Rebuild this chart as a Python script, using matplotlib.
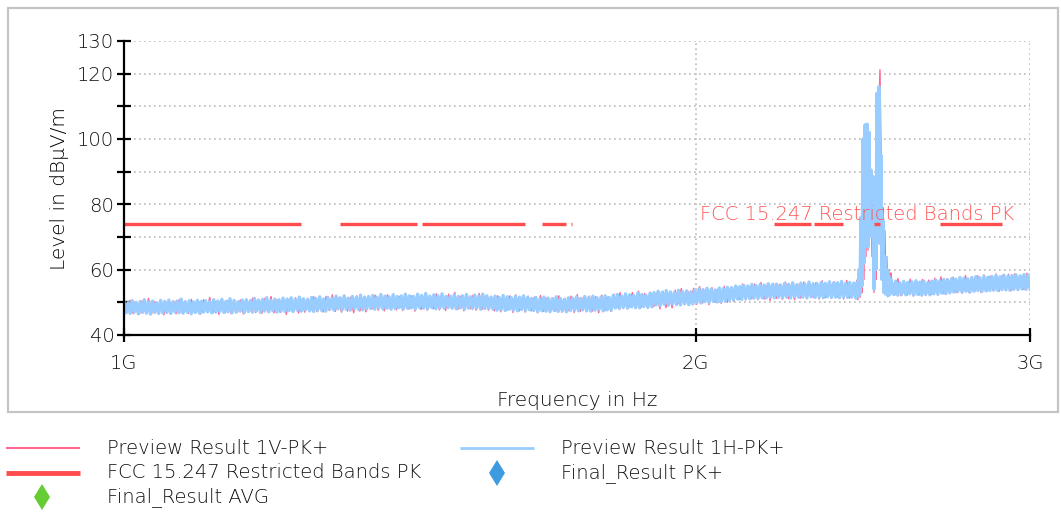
import numpy as np
import matplotlib
matplotlib.use("Agg")
import matplotlib.pyplot as plt
from matplotlib.lines import Line2D
from matplotlib.patches import Rectangle

plt.rcParams['font.family'] = ['DejaVu Sans']
plt.rcParams['font.weight'] = 200
plt.rcParams['axes.labelweight'] = 200

# ---------------- data ----------------
# Preview Result 1H-PK+ (blue), noise section 1.0 - 2.43 GHz
blue_a = [
    50.2,46.8,49.9,46.6,50.5,47.0,50.0,46.5,50.3,46.9,50.8,46.7,50.1,46.4,50.4,46.9,49.9,46.6,50.6,46.8,
    50.3,46.9,50.7,46.6,50.0,47.1,50.4,46.8,51.0,46.7,50.2,47.0,50.5,46.5,50.1,46.9,50.6,46.7,50.3,47.0,
    50.5,47.1,50.2,46.8,50.8,47.0,50.4,47.2,50.9,46.9,50.3,47.1,51.1,46.8,50.6,47.0,50.2,47.3,50.7,46.9,
    50.8,47.2,50.5,47.0,51.2,47.4,50.7,46.9,50.9,47.3,51.4,47.1,50.6,47.4,51.0,47.0,50.8,47.3,51.3,47.2,
    51.0,47.5,51.4,47.2,50.9,47.6,51.6,47.3,51.1,47.7,50.8,47.4,51.5,47.2,51.2,47.6,51.7,47.5,51.0,47.3,
    51.5,47.9,51.2,47.6,51.9,48.0,51.4,47.7,52.0,47.9,51.3,47.6,51.8,48.1,51.5,47.8,52.2,47.7,51.6,48.0,
    51.8,48.1,52.1,47.9,51.6,48.3,52.4,48.0,51.9,48.2,51.7,47.9,52.3,48.1,51.8,48.4,52.0,48.0,52.5,48.2,
    52.0,48.3,51.8,48.0,52.5,48.4,52.1,48.2,52.7,48.1,51.9,48.4,52.3,48.0,52.0,48.3,52.6,48.2,51.8,48.4,
    51.9,48.2,52.3,48.0,51.8,48.3,52.0,47.9,52.4,48.2,51.7,48.1,52.2,48.3,51.9,47.9,52.5,48.1,52.0,48.2,
    51.6,47.9,51.9,47.6,51.5,47.8,52.1,47.5,51.7,47.9,51.4,47.6,51.8,47.4,51.6,47.8,52.0,47.6,51.5,47.7,
    51.2,47.5,51.5,47.2,51.0,47.4,51.6,47.3,51.3,47.1,51.1,47.5,51.7,47.2,51.2,47.4,50.9,47.1,51.4,47.5,
    51.3,47.6,51.7,47.4,51.2,47.7,51.8,47.5,51.5,47.3,51.9,47.6,51.4,47.8,51.6,47.4,52.0,47.7,51.5,47.6,
    52.1,48.3,52.4,48.1,52.0,48.5,52.6,48.2,52.3,48.6,52.1,48.4,52.8,48.3,52.4,48.7,52.2,48.5,52.7,48.6,
    53.0,49.2,53.4,49.0,53.1,49.4,53.6,49.1,53.2,49.5,53.0,49.3,53.7,49.2,53.3,49.6,53.5,49.3,53.2,49.5,
    53.8,50.0,54.1,49.8,53.9,50.2,54.3,50.0,54.0,50.3,53.8,50.1,54.4,50.2,54.2,50.5,54.6,50.6,54.5,50.8,
    55.0,51.0,54.8,50.9,55.2,51.2,55.0,51.1,55.5,51.3,55.1,51.2,55.4,51.4,55.3,51.3,55.7,51.5,55.4,51.4,
    55.6,51.5,55.3,51.4,55.8,51.6,55.5,51.3,56.0,51.7,55.4,51.5,55.9,51.6,55.6,51.4,56.2,51.7,55.7,51.5,
    55.7,51.6,56.1,51.4,55.8,51.7,56.3,51.5,55.9,51.6,56.0,51.4,56.4,51.7,55.8,51.5,56.1,51.6,55.9,51.3,
]
# blue, carrier region 2432 - 2534 MHz (3 MHz steps)
blue_peak = [
    56.0,51.8,60.0,52.5,76.0,55.0,100.0,62.0,104.3,67.0,104.5,67.0,102.0,72.0,90.5,70.0,
    88.5,54.0,80.0,60.0,114.0,75.0,116.0,68.0,95.0,57.0,75.0,53.0,64.0,52.5,60.0,52.0,
    58.0,52.4,57.0,
]
# blue, noise section 2.54 - 3.0 GHz
blue_b = [
    56.2,52.4,56.5,52.2,56.0,52.5,56.4,52.3,56.1,52.6,
    56.3,52.3,56.6,52.4,56.2,52.2,56.5,52.5,56.0,52.3,
    56.5,52.6,56.8,52.5,56.6,52.8,57.0,52.7,56.9,52.9,
    57.3,53.1,57.1,53.3,57.6,53.2,57.4,53.4,57.2,53.1,
    57.6,53.4,57.9,53.6,57.5,53.3,58.0,53.5,57.7,53.6,
    57.9,53.7,58.2,53.6,57.8,53.9,58.3,53.8,58.0,53.7,
    58.2,54.0,58.4,53.9,58.1,54.1,58.5,54.0,58.3,54.2,
]

# Preview Result 1V-PK+ (pink)
red_a = [
    50.1,46.9,50.6,46.5,49.9,46.3,50.4,47.0,51.2,46.6,50.1,46.8,50.7,46.2,49.9,46.7,50.5,46.5,50.8,46.9,
    50.3,46.6,50.9,46.9,50.1,46.4,50.8,47.1,51.5,46.7,50.2,46.3,50.9,46.8,50.6,46.5,50.4,46.9,50.7,46.4,
    50.6,47.2,51.3,46.9,50.5,46.6,51.2,47.1,51.8,46.8,50.7,46.9,51.1,46.3,50.9,47.1,51.4,46.7,50.6,47.0,
    51.2,47.5,51.7,47.1,51.0,47.0,51.8,47.5,52.3,47.2,51.3,47.0,51.6,47.3,51.5,46.8,52.0,47.3,51.1,47.1,
    51.7,48.0,52.2,47.6,51.5,47.4,52.3,48.0,52.6,47.7,51.8,47.5,52.1,47.9,52.0,47.3,52.5,47.8,51.6,47.6,
    52.0,48.0,52.6,47.7,51.8,47.5,52.5,48.1,53.0,47.8,51.9,47.4,52.4,48.0,52.2,47.6,52.7,47.9,51.8,47.6,
    51.5,47.4,52.0,47.1,51.2,47.5,52.0,46.9,52.3,47.3,51.4,47.0,51.9,47.4,51.6,46.8,52.1,47.2,51.3,47.0,
    51.4,47.3,52.0,47.0,51.2,47.4,51.9,46.9,52.4,47.2,51.5,47.1,51.9,47.3,51.7,46.8,52.2,47.4,51.6,47.2,
    52.5,48.4,53.0,48.1,52.3,48.6,53.0,48.1,53.4,48.5,52.7,48.2,53.1,48.7,52.9,48.0,53.4,48.4,52.6,48.3,
    53.7,49.6,54.2,49.3,53.6,49.9,54.3,49.4,54.8,49.8,53.9,49.3,54.5,50.1,54.1,49.7,54.9,50.0,54.0,50.3,
    55.0,50.9,55.6,50.7,54.9,51.1,55.6,50.8,56.1,51.0,55.2,50.6,55.8,51.2,55.5,50.9,56.2,51.1,55.3,50.8,
    55.6,51.3,56.2,51.1,55.4,51.5,56.1,51.0,56.6,51.4,55.7,51.2,56.3,51.6,55.9,51.0,56.7,51.3,55.6,51.1,
]
red_peak = [
    56.8,50.8,58.0,51.5,63.0,53.0,92.0,57.0,103.5,64.0,103.0,66.0,97.0,70.0,87.0,64.0,
    85.0,53.0,74.0,57.0,106.0,73.0,110.0,121.2,98.0,75.0,79.0,63.0,72.0,56.0,64.0,52.0,
    60.0,52.0,59.0,
]
red_b = [
    56.6,52.2,57.3,52.0,56.4,52.2,57.1,51.9,56.7,52.3,
    57.0,52.1,56.8,52.4,57.4,52.2,57.8,52.6,57.2,52.8,
    57.7,53.0,57.4,52.8,58.2,53.1,57.8,53.3,58.1,53.1,
    58.4,53.4,58.0,53.6,58.7,53.4,58.3,53.7,58.6,53.6,
    58.7,53.8,58.2,53.9,58.9,53.7,
]

# FCC 15.247 restricted bands (MHz) and limit level
band_start = [1000, 1300, 1435, 1645.5, 1660, 1718.8, 2200, 2310, 2483.5, 2690]
band_stop = [1240, 1427, 1626.5, 1646.5, 1710, 1722.2, 2300, 2390, 2500, 2900]
limit_pk = 74.0

y_ticks = [40, 50, 60, 70, 80, 90, 100, 110, 120, 130]
y_labels = ['40', '', '60', '', '80', '', '100', '', '120', '130']
x_ticks = [1000, 2000, 3000]
x_labels = ['1G', '2G', '3G']

# sweep frequency grids (MHz)
f_peak = np.arange(2432, 2535, 3)
f_blue = np.concatenate([np.geomspace(1000, 2429, len(blue_a)), f_peak,
                         np.geomspace(2537, 3000, len(blue_b))])
f_red = np.concatenate([np.geomspace(1000, 2429, len(red_a)), f_peak,
                        np.geomspace(2537, 3000, len(red_b))])
lv_blue = np.array(blue_a + blue_peak + blue_b)
lv_red = np.array(red_a + red_peak + red_b)

# ---------------- figure ----------------
W, H = 1061, 513
fig = plt.figure(figsize=(W / 100, H / 100), dpi=100)
ax = fig.add_axes([124 / W, 1 - 335 / H, (1030 - 124) / W, (335 - 41) / H])

C_PINK = '#ff6690'
C_BLUE = '#99ccff'
C_LIM = '#ff4c4c'
GRID = '#bbbbbb'
TXT = '#111111'

ax.plot(f_red, lv_red, color=C_PINK, lw=1.0, zorder=3)
ax.plot(f_blue, lv_blue, color=C_BLUE, lw=2.4, zorder=4)
for a, b in zip(band_start, band_stop):
    ax.plot([a, b], [limit_pk, limit_pk], color=C_LIM, lw=2.4,
            solid_capstyle='butt', zorder=5)

ax.text(2010, 77.0, 'FCC 15.247 Restricted Bands PK', color='#ff5555',
        fontsize=14, va='center', ha='left', zorder=6)

ax.set_xscale('log')
ax.set_xlim(1000, 3000)
ax.set_ylim(40, 130)
ax.set_xticks(x_ticks)
ax.set_xticklabels(x_labels)
ax.xaxis.set_minor_locator(matplotlib.ticker.NullLocator())
ax.set_yticks(y_ticks)
ax.set_yticklabels(y_labels)

for y in y_ticks[1:]:
    ax.axhline(y, color=GRID, lw=1.2, ls=(0, (1, 2)), zorder=1)
for x in x_ticks[1:]:
    ax.axvline(x, color=GRID, lw=1.2, ls=(0, (1, 2)), zorder=1)

for s in ['top', 'right']:
    ax.spines[s].set_visible(False)
for s in ['left', 'bottom']:
    ax.spines[s].set_linewidth(1.6)
    ax.spines[s].set_color('black')
    ax.spines[s].set_zorder(7)

ax.tick_params(axis='both', direction='inout', length=10, width=1.6,
               colors='black', labelcolor=TXT, labelsize=14)
ax.tick_params(axis='y', pad=2)
ax.tick_params(axis='x', pad=9)

ax.set_ylabel('Level in dBµV/m', fontsize=14.5, labelpad=6, color='black')
ax.set_xlabel('Frequency in Hz', fontsize=14.5, color=TXT, labelpad=13)

# outer frame
fig.add_artist(Rectangle((8 / W, 1 - 412 / H), 1050 / W, 404 / H,
                         transform=fig.transFigure, fill=False,
                         edgecolor='#c4c4c4', lw=1.6))

# legend (manual)
def leg_line(x0, x1, y, color, lw):
    fig.add_artist(Line2D([x0 / W, x1 / W], [1 - y / H, 1 - y / H],
                          transform=fig.transFigure, color=color, lw=lw,
                          solid_capstyle='butt'))

def leg_marker(x, y, color):
    fig.add_artist(Line2D([x / W], [1 - y / H], transform=fig.transFigure,
                          marker='d', markersize=13, markeredgewidth=0,
                          color=color, ls='none'))

def leg_text(x, y, s):
    fig.text(x / W, 1 - y / H, s, fontsize=14, va='center', ha='left',
             color=TXT)

leg_line(6, 80, 448, C_PINK, 1.5)
leg_text(107, 448, 'Preview Result 1V-PK+')
leg_line(460, 534, 448, C_BLUE, 2.0)
leg_text(561, 448, 'Preview Result 1H-PK+')
leg_line(6, 80, 473, C_LIM, 3.5)
leg_text(107, 473, 'FCC 15.247 Restricted Bands PK')
leg_marker(497, 473, '#3f9be0')
leg_text(561, 473, 'Final_Result PK+')
leg_marker(42, 497, '#66cc33')
leg_text(107, 497, 'Final_Result AVG')

fig.savefig('out.png', dpi=100)
